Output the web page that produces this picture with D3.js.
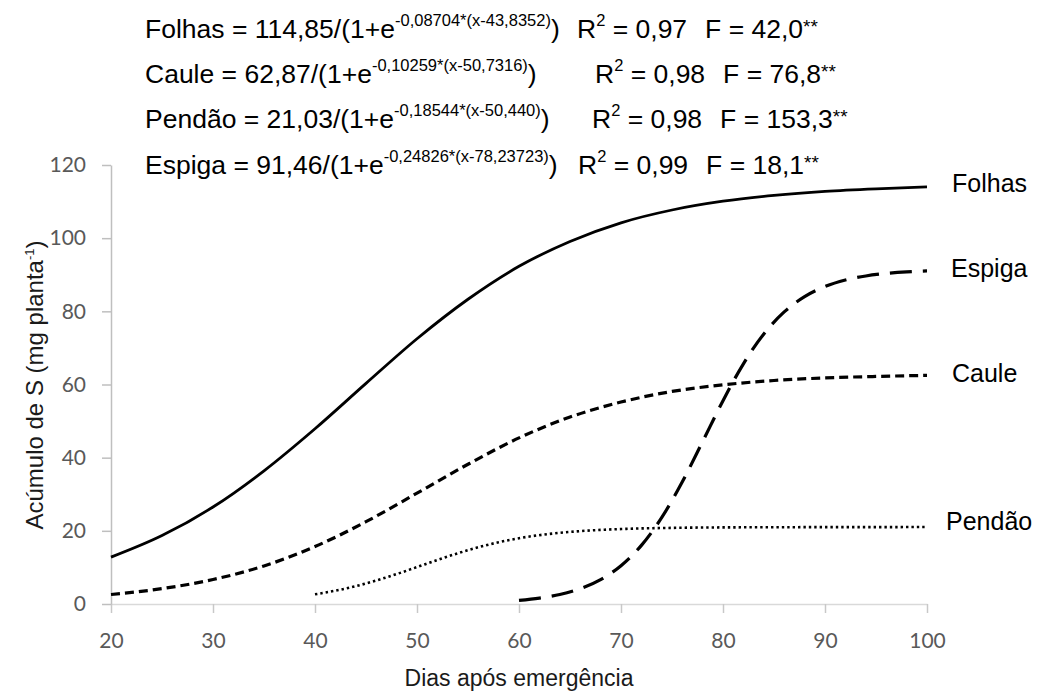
<!DOCTYPE html>
<html><head><meta charset="utf-8">
<script src="https://cdn.jsdelivr.net/npm/d3@7"></script>
<style>body{margin:0;background:#fff}svg{display:block}</style>
</head><body><svg id="c" width="1040" height="695"></svg>
<script>
// Data
const xTicks = [20,30,40,50,60,70,80,90,100];
const yTicks = [0,20,40,60,80,100,120];
const folhasX = [20,25,30,35,40,45,50,55,60,65,70,75,80,85,90,95,100];
const folhasY = [12.8,18.7,26.5,36.4,47.9,60.3,72.5,83.3,92.3,99.1,104.2,107.7,110.1,111.7,112.8,113.5,114.0];
const cauleX = [20,25,30,35,40,45,50,55,60,65,70,75,80,85,90,95,100];
const cauleY = [2.6,4.2,6.7,10.4,15.7,22.5,30.3,38.2,45.4,51.1,55.2,58.1,59.9,61.1,61.8,62.2,62.5];
const pendaoX = [40,42,44,46,48,50,52,54,56,58,60,63,66,70,75,80,90,100];
const pendaoY = [2.65,3.64,4.89,6.42,8.18,10.09,12.03,13.86,15.5,16.88,17.98,19.16,19.92,20.49,20.81,20.94,21.01,21.03];
const espigaX = [60,62,64,66,68,70,72,74,76,78,80,82,84,86,88,90,92,94,96,98,100];
const espigaY = [0.98,1.6,2.59,4.18,6.68,10.48,16.03,23.67,33.34,44.38,55.58,65.66,73.81,79.84,84.02,86.78,88.56,89.67,90.36,90.79,91.05];
const seriesNames = ["Folhas","Caule","Pendão","Espiga"];
const eqMain = ["Folhas = 114,85/(1+e","Caule = 62,87/(1+e","Pendão = 21,03/(1+e","Espiga = 91,46/(1+e"];
const eqExp = ["-0,08704*(x-43,8352)","-0,10259*(x-50,7316)","-0,18544*(x-50,440)","-0,24826*(x-78,23723)"];
const eqR2 = ["0,97","0,98","0,98","0,99"];
const eqF = ["42,0","76,8","153,3","18,1"];

const svg = d3.select("#c");
const x = d3.scaleLinear().domain([20,100]).range([111,927]);
const y = d3.scaleLinear().domain([0,120]).range([604,165]);
const SANS = "'Liberation Sans', Arial, sans-serif";

// axes
const xa = svg.append("g").attr("transform","translate(0,604)")
  .call(d3.axisBottom(x).tickValues(xTicks).tickSize(9).tickPadding(20).tickSizeOuter(0));
xa.select(".domain").attr("stroke","#d9d9d9").attr("stroke-width",1.5);
xa.selectAll(".tick line").attr("stroke","#c8c8c8").attr("stroke-width",1.5);
const ya = svg.append("g").attr("transform","translate(111,0)")
  .call(d3.axisLeft(y).tickValues(yTicks).tickSize(9).tickPadding(16).tickSizeOuter(0));
ya.select(".domain").attr("stroke","#bfbfbf").attr("stroke-width",1.5);
ya.selectAll(".tick line").attr("stroke","#bfbfbf").attr("stroke-width",1.5);
svg.selectAll(".tick text").attr("font-family","Lato, 'Open Sans', sans-serif").attr("font-size",21).attr("fill","#595959");

// curves
const line = d3.line().x(d=>x(d[0])).y(d=>y(d[1])).curve(d3.curveMonotoneX);
const zip = (a,b)=>a.map((v,i)=>[v,b[i]]);
svg.append("path").attr("d",line(zip(folhasX,folhasY))).attr("fill","none").attr("stroke","#000").attr("stroke-width",2.8);
svg.append("path").attr("d",line(zip(cauleX,cauleY))).attr("fill","none").attr("stroke","#000").attr("stroke-width",3.2).attr("stroke-dasharray","9,5");
svg.append("path").attr("d",line(zip(pendaoX,pendaoY))).attr("fill","none").attr("stroke","#000").attr("stroke-width",2.6).attr("stroke-dasharray","2.4,3");
svg.append("path").attr("d",line(zip(espigaX,espigaY))).attr("fill","none").attr("stroke","#000").attr("stroke-width",3.2).attr("stroke-dasharray","22,11");

// series labels
const lblPos = [[952,183],[952,373],[946,521],[951,268]];
seriesNames.forEach((n,i)=>{
  svg.append("text").attr("x",lblPos[i][0]).attr("y",lblPos[i][1]).attr("dy","0.36em")
    .attr("font-family",SANS).attr("font-size",25).text(n);
});

// equations
const eqY = [28,73,118,164];
const rX = [577,595,592,578];
eqMain.forEach((m,i)=>{
  const t = svg.append("text").attr("x",145).attr("y",eqY[i]).attr("dy","0.36em")
    .attr("font-family",SANS).attr("font-size",26.5);
  t.append("tspan").text(m);
  t.append("tspan").attr("font-size",16.5).attr("dy","-0.72em").text(eqExp[i]);
  t.append("tspan").attr("dy","0.46em").text(")");
  const r = svg.append("text").attr("x",rX[i]).attr("y",eqY[i]).attr("dy","0.36em")
    .attr("font-family",SANS).attr("font-size",26.5);
  r.append("tspan").text("R");
  r.append("tspan").attr("font-size",16.5).attr("dy","-0.72em").text("2");
  r.append("tspan").attr("dy","0.46em").text(" = " + eqR2[i]);
  r.append("tspan").attr("dx",18).text("F = " + eqF[i]);
  r.append("tspan").attr("font-size",19).attr("dy","-0.28em").text("**");
});

// axis titles
svg.append("text").attr("x",519).attr("y",678).attr("dy","0.36em").attr("text-anchor","middle")
  .attr("font-family",SANS).attr("font-size",23).attr("fill","#1a1a1a").text("Dias após emergência");
const yt = svg.append("text").attr("transform","translate(34,385) rotate(-90)").attr("dy","0.36em").attr("text-anchor","middle")
  .attr("font-family",SANS).attr("font-size",24).attr("fill","#1a1a1a");
yt.append("tspan").text("Acúmulo de S (mg planta");
yt.append("tspan").attr("font-size",13).attr("dy","-0.7em").text("-1");
yt.append("tspan").attr("dy","0.4em").text(")");
</script></body></html>
